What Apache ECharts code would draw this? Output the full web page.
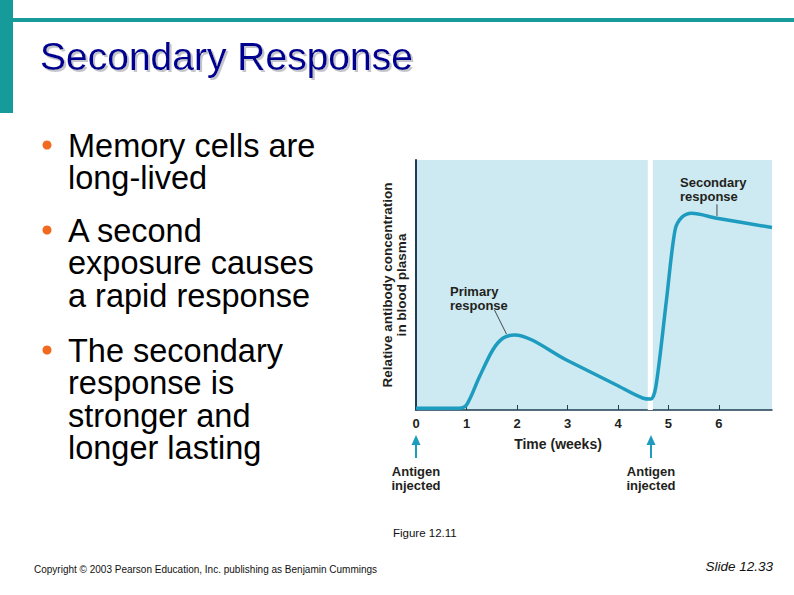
<!DOCTYPE html>
<html>
<head>
<meta charset="utf-8">
<title>Secondary Response</title>
<script src="https://cdn.jsdelivr.net/npm/echarts@6/dist/echarts.min.js"></script>
<style>
  html, body { margin: 0; padding: 0; background: #fff; }
  #main { width: 794px; height: 595px; }
</style>
</head>
<body>
<div id="main"></div>
<script>
// time in weeks, antibody level (relative, 0-100)
var weeks    = [0, 0.85, 1.0, 1.25, 1.52, 1.72, 1.95, 2.98, 3.97, 4.5, 4.65, 4.75, 4.96, 5.13, 5.26, 5.46, 5.96, 7.05];
var antibody = [0.7, 0.7, 2, 13, 24, 28.7, 30, 20, 10, 4.7, 4.4, 9.3, 44, 72, 77, 78.7, 76.7, 73];
var weekTicks = [0, 1, 2, 3, 4, 5, 6];
var antigenWeeks = [0, 4.65];
var gapWeeks = [4.59, 4.69];
var bulletTexts = [
  'Memory cells are\nlong-lived',
  'A second\nexposure causes\na rapid response',
  'The secondary\nresponse is\nstronger and\nlonger lasting'
];

var FONT = '"Liberation Sans", Arial, sans-serif';
var INK = '#231f20';
var LINE_COLOR = '#1e9cbf';

var chart = echarts.init(document.getElementById('main'), null, {renderer: 'svg'});

var option = {
  backgroundColor: '#fff',
  animation: false,
  grid: {
    left: 416, top: 160, width: 356, height: 250,
    show: true, backgroundColor: '#cde9f1', borderWidth: 0
  },
  xAxis: {
    type: 'value', min: 0, max: 7.05,
    name: 'Time (weeks)',
    nameLocation: 'middle',
    nameGap: 27,
    nameTextStyle: { color: INK, fontFamily: FONT, fontWeight: 'bold', fontSize: 14, padding: [0, 72, 0, 0] },
    axisLine: { lineStyle: { color: '#1d3d50', width: 1.5 } },
    axisTick: { inside: true, length: 5, customValues: weekTicks, lineStyle: { color: '#1d3d50' } },
    axisLabel: { customValues: weekTicks, color: INK, fontFamily: FONT, fontWeight: 'bold', fontSize: 13, margin: 7 },
    splitLine: { show: false }
  },
  yAxis: {
    type: 'value', min: 0, max: 100,
    name: 'Relative antibody concentration\nin blood plasma',
    nameLocation: 'middle',
    nameRotate: 90,
    nameGap: 7,
    nameTextStyle: { color: INK, fontFamily: FONT, fontWeight: 'bold', fontSize: 13.5, lineHeight: 14.5 },
    axisLine: { show: true, lineStyle: { color: '#1d3d50', width: 2 } },
    axisTick: { show: false },
    axisLabel: { show: false },
    splitLine: { show: false }
  },
  series: [{
    type: 'line',
    data: weeks.map(function (w, i) { return [w, antibody[i]]; }),
    smooth: 0.3,
    showSymbol: false,
    lineStyle: { color: LINE_COLOR, width: 3.5 },
    markArea: {
      silent: true,
      itemStyle: { color: '#ffffff' },
      data: [[{ xAxis: gapWeeks[0] }, { xAxis: gapWeeks[1] }]]
    }
  }]
};
chart.setOption(option);

// slide decoration + annotations
var g = [];
g.push({ type: 'rect', shape: { x: 0, y: 0, width: 13, height: 113 }, style: { fill: '#169a9a' } });
g.push({ type: 'rect', shape: { x: 13, y: 18, width: 781, height: 4 }, style: { fill: '#169a9a' } });
g.push({ type: 'text', style: {
  text: 'Secondary Response', x: 40, y: 56, textVerticalAlign: 'middle',
  font: '39px ' + FONT, fill: '#000090',
  textShadowColor: '#c4c4cc', textShadowOffsetX: 2, textShadowOffsetY: 2, textShadowBlur: 0.01
}});

var bulletTops = [129, 214, 334];
bulletTexts.forEach(function (t, i) {
  g.push({ type: 'circle', shape: { cx: 47, cy: bulletTops[i] + 16, r: 4.5 }, style: { fill: '#f26a1f' } });
  t.split('\n').forEach(function (ln, j) {
    g.push({ type: 'text', style: {
      text: ln, x: 68, y: bulletTops[i] + j * 32.5, textVerticalAlign: 'top',
      font: '32.5px ' + FONT, fill: '#000'
    }});
  });
});

function twoLines(a, b, x, y, align) {
  g.push({ type: 'text', style: { text: a, x: x, y: y, textAlign: align, textVerticalAlign: 'middle', font: 'bold 13px ' + FONT, fill: INK } });
  g.push({ type: 'text', style: { text: b, x: x, y: y + 14, textAlign: align, textVerticalAlign: 'middle', font: 'bold 13px ' + FONT, fill: INK } });
}

// annotation labels
twoLines('Primary', 'response', 450, 291, 'left');
var pk1 = chart.convertToPixel({ xAxisIndex: 0, yAxisIndex: 0 }, [1.95, 30]);
g.push({ type: 'line', shape: { x1: pk1[0] - 20, y1: pk1[1] - 25, x2: pk1[0] - 8, y2: pk1[1] - 1 }, style: { stroke: INK, lineWidth: 0.8 } });
twoLines('Secondary', 'response', 680, 182, 'left');
var pk2 = chart.convertToPixel({ xAxisIndex: 0, yAxisIndex: 0 }, [5.96, 76.7]);
g.push({ type: 'line', shape: { x1: pk2[0], y1: pk2[1] - 14, x2: pk2[0], y2: pk2[1] - 2 }, style: { stroke: INK, lineWidth: 0.8 } });

// antigen arrows
antigenWeeks.forEach(function (w) {
  var p = chart.convertToPixel({ xAxisIndex: 0, yAxisIndex: 0 }, [w, 0]);
  var x = Math.round(p[0]);
  g.push({ type: 'line', shape: { x1: x, y1: 458, x2: x, y2: 443 }, style: { stroke: LINE_COLOR, lineWidth: 2 } });
  g.push({ type: 'polygon', shape: { points: [[x - 4.5, 445], [x + 4.5, 445], [x, 435]] }, style: { fill: LINE_COLOR } });
  twoLines('Antigen', 'injected', x, 471, 'center');
});

// footer
g.push({ type: 'text', style: { text: 'Figure 12.11', x: 393, y: 533, textVerticalAlign: 'middle', font: '11.5px ' + FONT, fill: '#111' } });
g.push({ type: 'text', style: { text: 'Copyright \u00a9 2003 Pearson Education, Inc. publishing as Benjamin Cummings', x: 34, y: 569, textVerticalAlign: 'middle', font: '10px ' + FONT, fill: '#111' } });
g.push({ type: 'text', style: { text: 'Slide 12.33', x: 773, y: 566, textAlign: 'right', textVerticalAlign: 'middle', font: 'italic 13.5px ' + FONT, fill: '#111' } });

chart.setOption({ graphic: g });
</script>
</body>
</html>
